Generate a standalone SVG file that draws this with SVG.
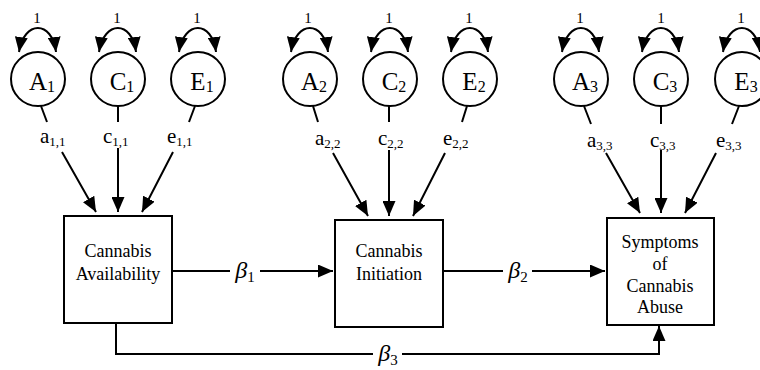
<svg xmlns="http://www.w3.org/2000/svg" width="760" height="370" viewBox="0 0 760 370">
<defs>
<marker id="arr" viewBox="0 0 15 13" refX="15" refY="6.5" markerWidth="15" markerHeight="13" markerUnits="userSpaceOnUse" orient="auto-start-reverse">
<path d="M0,0 L15,6.5 L0,13 z" fill="#000"/>
</marker>
</defs>
<style>
.lat{fill:#fff;stroke:#000;stroke-width:2}
.box{fill:#fff;stroke:#000;stroke-width:2}
.a{fill:none;stroke:#000;stroke-width:2;marker-end:url(#arr)}
.loop{fill:none;stroke:#000;stroke-width:2;marker-start:url(#arr);marker-end:url(#arr)}
.ln{font-size:25px;text-anchor:middle}
.one{font-size:15px;text-anchor:middle}
.pl{font-size:21px}
.bt{font-size:18px;text-anchor:middle}
.beta{font-size:24px;text-anchor:middle}
</style>

<g id="connectors">
<path class="loop" d="M19 52 C24 20 52 20 56 52"/>
<path class="loop" d="M99 52 C104 20 132 20 136 52"/>
<path class="loop" d="M179 52 C184 20 212 20 216 52"/>
<path class="loop" d="M291 52 C296 20 324 20 328 52"/>
<path class="loop" d="M371 52 C376 20 404 20 408 52"/>
<path class="loop" d="M451 52 C456 20 484 20 488 52"/>
<path class="loop" d="M562 52 C567 20 595 20 599 52"/>
<path class="loop" d="M642 52 C647 20 675 20 679 52"/>
<path class="loop" d="M723 52 C728 20 756 20 760 52"/>
<text class="one" font-family="Liberation Serif" x="37" y="23">1</text>
<text class="one" font-family="Liberation Serif" x="117" y="23">1</text>
<text class="one" font-family="Liberation Serif" x="197" y="23">1</text>
<text class="one" font-family="Liberation Serif" x="308" y="23">1</text>
<text class="one" font-family="Liberation Serif" x="389" y="23">1</text>
<text class="one" font-family="Liberation Serif" x="469" y="23">1</text>
<text class="one" font-family="Liberation Serif" x="580" y="23">1</text>
<text class="one" font-family="Liberation Serif" x="661" y="23">1</text>
<text class="one" font-family="Liberation Serif" x="741" y="23">1</text>

<path class="a" d="M41 106 L47 122 M62 152 L96 212"/>
<path class="a" d="M118 106 L118 122 M118 148 L118 212"/>
<path class="a" d="M195 106 L189 122 M173 152 L142 212"/>
<text class="pl" font-family="Liberation Serif" x="40" y="143">a<tspan font-size="13" dy="3">1,1</tspan></text>
<text class="pl" font-family="Liberation Serif" x="103" y="143">c<tspan font-size="13" dy="3">1,1</tspan></text>
<text class="pl" font-family="Liberation Serif" x="167" y="143">e<tspan font-size="13" dy="3">1,1</tspan></text>

<path class="a" d="M313 106 L318 122 M333 153 L368 216"/>
<path class="a" d="M389 106 L389 122 M389 150 L389 216"/>
<path class="a" d="M467 106 L462 122 M445 153 L413 216"/>
<text class="pl" font-family="Liberation Serif" x="315" y="145">a<tspan font-size="13" dy="3">2,2</tspan></text>
<text class="pl" font-family="Liberation Serif" x="378" y="145">c<tspan font-size="13" dy="3">2,2</tspan></text>
<text class="pl" font-family="Liberation Serif" x="443" y="145">e<tspan font-size="13" dy="3">2,2</tspan></text>

<path class="a" d="M584 106 L591 124 M606 153 L640 213"/>
<path class="a" d="M661 106 L661 124 M661 150 L661 213"/>
<path class="a" d="M739 106 L732 124 M716 153 L685 213"/>
<text class="pl" font-family="Liberation Serif" x="587" y="147">a<tspan font-size="13" dy="3">3,3</tspan></text>
<text class="pl" font-family="Liberation Serif" x="650" y="147">c<tspan font-size="13" dy="3">3,3</tspan></text>
<text class="pl" font-family="Liberation Serif" x="716" y="147">e<tspan font-size="13" dy="3">3,3</tspan></text>

<path class="a" d="M172 271 H230 M260 271 H333"/>
<text class="beta" font-family="Liberation Serif" x="245" y="278"><tspan font-style="italic">β</tspan><tspan font-size="15" dy="4">1</tspan></text>
<path class="a" d="M443 271 H503 M532 271 H605"/>
<text class="beta" font-family="Liberation Serif" x="518" y="278"><tspan font-style="italic">β</tspan><tspan font-size="15" dy="4">2</tspan></text>
<path class="a" d="M116 323 V354 H373 M402 354 H659 V326"/>
<text class="beta" font-family="Liberation Serif" x="388" y="361"><tspan font-style="italic">β</tspan><tspan font-size="15" dy="4">3</tspan></text>
</g>

<g id="A1"><circle class="lat" cx="38" cy="79" r="27"/><text class="ln" font-family="Liberation Serif" x="42" y="90">A<tspan font-size="16" dy="2">1</tspan></text></g>
<g id="C1"><circle class="lat" cx="118" cy="79" r="27"/><text class="ln" font-family="Liberation Serif" x="122" y="90">C<tspan font-size="16" dy="2">1</tspan></text></g>
<g id="E1"><circle class="lat" cx="198" cy="79" r="27"/><text class="ln" font-family="Liberation Serif" x="202" y="90">E<tspan font-size="16" dy="2">1</tspan></text></g>
<g id="A2"><circle class="lat" cx="310" cy="79" r="27"/><text class="ln" font-family="Liberation Serif" x="314" y="90">A<tspan font-size="16" dy="2">2</tspan></text></g>
<g id="C2"><circle class="lat" cx="390" cy="79" r="27"/><text class="ln" font-family="Liberation Serif" x="394" y="90">C<tspan font-size="16" dy="2">2</tspan></text></g>
<g id="E2"><circle class="lat" cx="470" cy="79" r="27"/><text class="ln" font-family="Liberation Serif" x="474" y="90">E<tspan font-size="16" dy="2">2</tspan></text></g>
<g id="A3"><circle class="lat" cx="581" cy="79" r="27"/><text class="ln" font-family="Liberation Serif" x="585" y="90">A<tspan font-size="16" dy="2">3</tspan></text></g>
<g id="C3"><circle class="lat" cx="661" cy="79" r="27"/><text class="ln" font-family="Liberation Serif" x="665" y="90">C<tspan font-size="16" dy="2">3</tspan></text></g>
<g id="E3"><circle class="lat" cx="742" cy="79" r="27"/><text class="ln" font-family="Liberation Serif" x="746" y="90">E<tspan font-size="16" dy="2">3</tspan></text></g>

<g id="availability"><rect class="box" x="64" y="216" width="108" height="107"/>
<text class="bt" font-family="Liberation Serif" x="118" y="257">Cannabis</text><text class="bt" font-family="Liberation Serif" x="118" y="280">Availability</text></g>
<g id="initiation"><rect class="box" x="335" y="220" width="108" height="107"/>
<text class="bt" font-family="Liberation Serif" x="389" y="257">Cannabis</text><text class="bt" font-family="Liberation Serif" x="389" y="280">Initiation</text></g>
<g id="abuse"><rect class="box" x="607" y="218" width="107" height="107"/>
<text class="bt" font-family="Liberation Serif" x="660" y="248">Symptoms</text><text class="bt" font-family="Liberation Serif" x="660" y="270">of</text><text class="bt" font-family="Liberation Serif" x="660" y="292">Cannabis</text><text class="bt" font-family="Liberation Serif" x="660" y="313">Abuse</text></g>
</svg>
